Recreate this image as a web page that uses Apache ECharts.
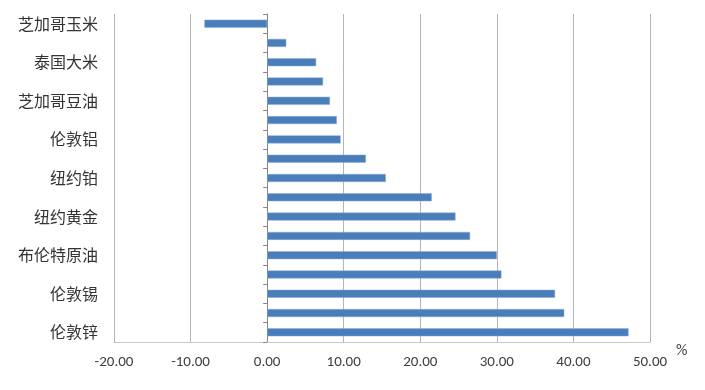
<!DOCTYPE html>
<html><head><meta charset="utf-8">
<script src="https://cdn.jsdelivr.net/npm/echarts@6/dist/echarts.min.js"></script>
<style>html,body{margin:0;padding:0;background:#fff}#c{width:705px;height:390px}</style>
</head><body><div id="c"></div>
<script>
const categories = ['芝加哥玉米','','泰国大米','','芝加哥豆油','','伦敦铝','','纽约铂','','纽约黄金','','布伦特原油','','伦敦锡','','伦敦锌'];
const values = [-8.2, 2.5, 6.4, 7.3, 8.2, 9.1, 9.6, 12.9, 15.5, 21.5, 24.6, 26.5, 30.0, 30.6, 37.6, 38.8, 47.2];
const xMin = -20, xMax = 50, xStep = 10;
const unitLabel = '%';

const chart = echarts.init(document.getElementById('c'), null, {renderer: 'canvas'});
chart.setOption({
  animation: false,
  grid: {left: 114, right: 55, top: 14, bottom: 48, containLabel: false},
  xAxis: {
    type: 'value', min: xMin, max: xMax, interval: xStep,
    axisLine: {show: true, onZero: false, lineStyle: {color: '#c8c8c8', width: 1}},
    axisTick: {show: false},
    splitLine: {show: true, lineStyle: {color: '#b4b4b4', width: 1}},
    axisLabel: {color: '#404040', fontSize: 15, margin: 13, fontFamily: 'Carlito, Calibri, "Liberation Sans", sans-serif',
      formatter: v => v.toFixed(2)}
  },
  yAxis: [{
    type: 'category', data: categories, inverse: true,
    axisLine: {show: false, onZero: false},
    axisTick: {show: false},
    axisLabel: {interval: 0, color: '#333', fontSize: 16, margin: 16, fontFamily: '"Noto Sans CJK SC", sans-serif'}
  }, {
    type: 'category', data: categories, inverse: true, position: 'left',
    axisLine: {show: true, onZero: true, lineStyle: {color: '#868686', width: 1}},
    axisTick: {show: true, length: 4, lineStyle: {color: '#868686'}},
    axisLabel: {show: false}
  }],
  graphic: [{type: 'text', left: 676, top: 343, style: {text: unitLabel, fill: '#404040', fontSize: 16, fontFamily: 'Carlito, Calibri, "Liberation Sans", sans-serif'}}],
  series: [{
    type: 'bar', data: values, barWidth: 8, yAxisIndex: 0,
    itemStyle: {color: '#4a7ebb', borderColor: '#8eaad8', borderWidth: 0.5}
  }]
});
</script></body></html>
